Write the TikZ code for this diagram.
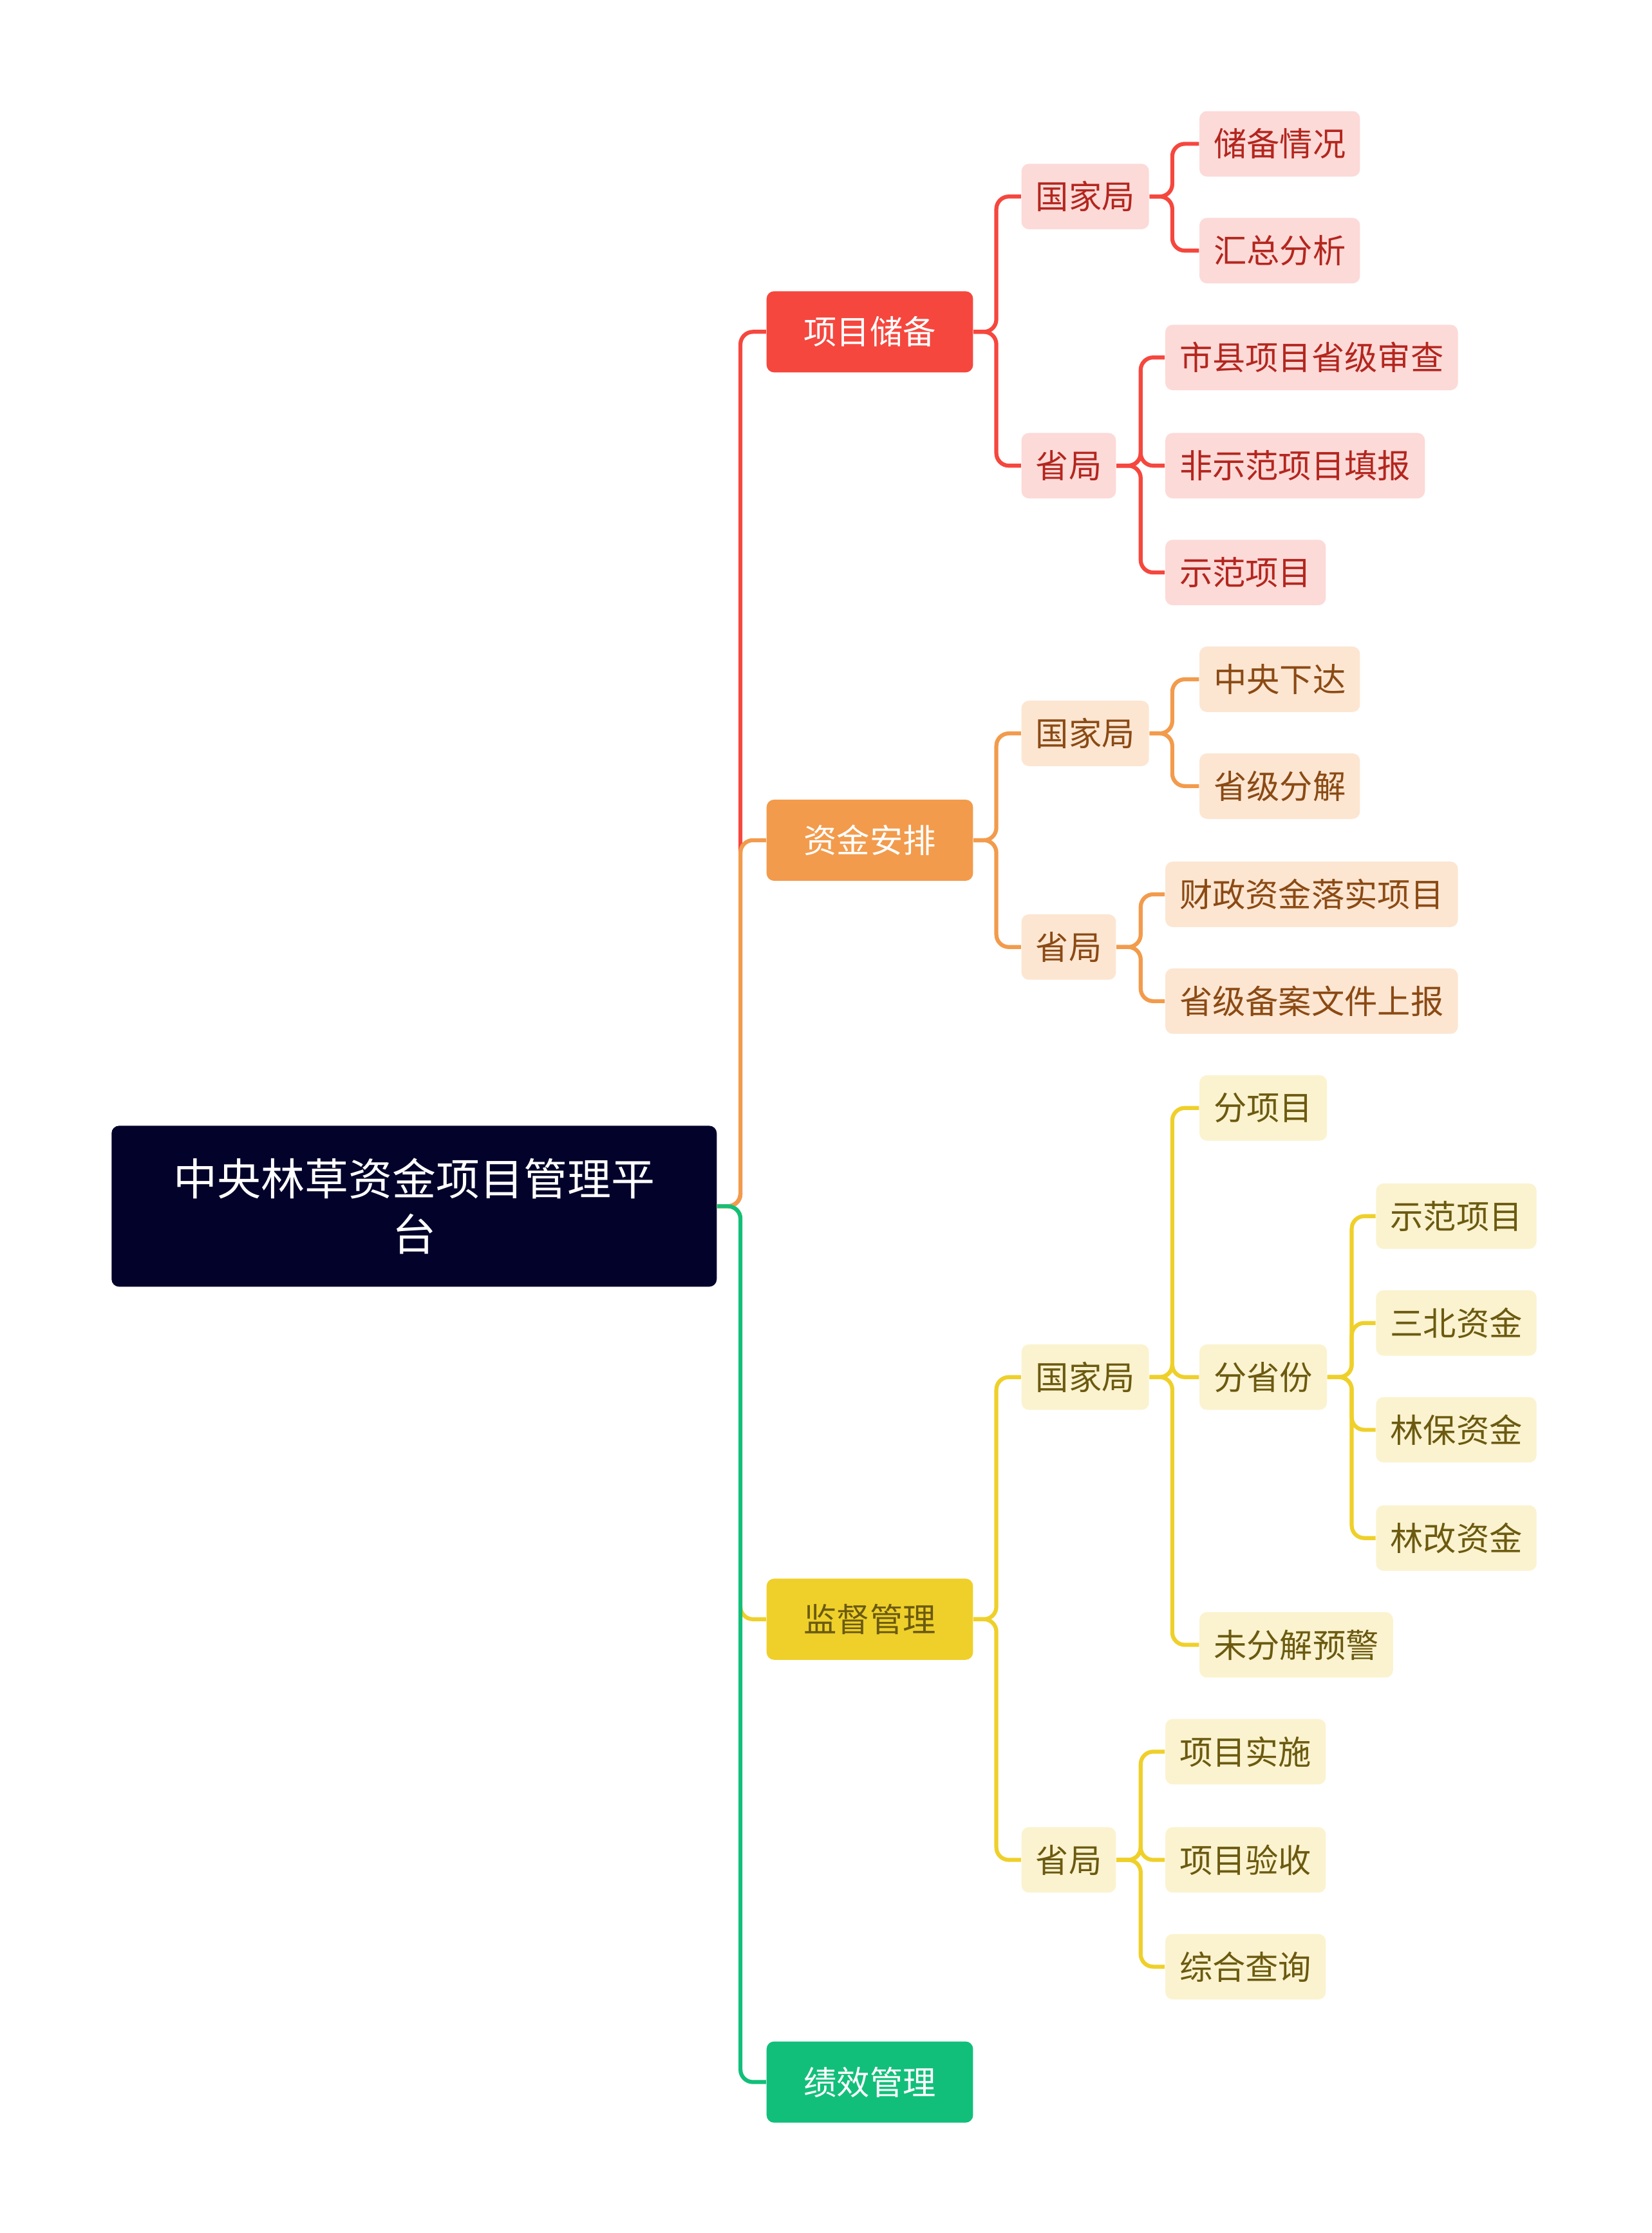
\documentclass[tikz,border=0pt]{standalone}
\usepackage{fontspec}
\setmainfont{Noto Sans CJK SC}
\begin{document}
\begin{tikzpicture}[x=0.02cm,y=-0.02cm,
    every node/.style={font=\fontsize{13.2}{15}\selectfont},
    rootbox/.style={fill=rootC,text=white,rounded corners=3pt,minimum width=425*0.02cm,minimum height=113*0.02cm,align=center,font=\fontsize{17.5}{22}\selectfont,anchor=west},
    topbox/.style={fill=#1,rounded corners=3pt,minimum width=145*0.02cm,minimum height=57*0.02cm,anchor=west},
    subbox/.style={fill=#1,rounded corners=3pt,minimum height=46*0.02cm,inner xsep=0.2cm,anchor=west},
    link/.style={draw=#1,line width=1.6pt,rounded corners=5pt}]

    \definecolor{rootC}{HTML}{02022B}
    \definecolor{redC}{HTML}{F5473E}
    \definecolor{redL}{HTML}{FCDAD8}
    \definecolor{redT}{HTML}{B3261E}
    \definecolor{oraC}{HTML}{F29B4C}
    \definecolor{oraL}{HTML}{FCE6D2}
    \definecolor{oraT}{HTML}{8B4A14}
    \definecolor{yelC}{HTML}{EFD02A}
    \definecolor{yelL}{HTML}{FBF3CF}
    \definecolor{yelT}{HTML}{6B5A10}
    \definecolor{grnC}{HTML}{12BF7A}

    \useasboundingbox (0,0) rectangle (1160,1568);

    % Root.
    \node[rootbox] (root) at (78,847) {中央林草资金项目管理平\\台};

    % Main branches.
    \node[topbox=redC,text=white] (reserve) at (538,233) {项目储备};
    \node[topbox=oraC,text=white] (fund) at (538,590) {资金安排};
    \node[topbox=yelC,text=yelT] (super) at (538,1137) {监督管理};
    \node[topbox=grnC,text=white] (perf) at (538,1462) {绩效管理};

    % Project reserve.
    \node[subbox=redL,text=redT] (rNat) at (717,138) {国家局};
    \node[subbox=redL,text=redT] (rPro) at (717,327) {省局};
    \node[subbox=redL,text=redT] (rN1) at (842,101) {储备情况};
    \node[subbox=redL,text=redT] (rN2) at (842,176) {汇总分析};
    \node[subbox=redL,text=redT] (rP1) at (818,251) {市县项目省级审查};
    \node[subbox=redL,text=redT] (rP2) at (818,327) {非示范项目填报};
    \node[subbox=redL,text=redT] (rP3) at (818,402) {示范项目};

    % Fund arrangement.
    \node[subbox=oraL,text=oraT] (fNat) at (717,515) {国家局};
    \node[subbox=oraL,text=oraT] (fPro) at (717,665) {省局};
    \node[subbox=oraL,text=oraT] (fN1) at (842,477) {中央下达};
    \node[subbox=oraL,text=oraT] (fN2) at (842,552) {省级分解};
    \node[subbox=oraL,text=oraT] (fP1) at (818,628) {财政资金落实项目};
    \node[subbox=oraL,text=oraT] (fP2) at (818,703) {省级备案文件上报};

    % Supervision.
    \node[subbox=yelL,text=yelT] (sNat) at (717,967) {国家局};
    \node[subbox=yelL,text=yelT] (sPro) at (717,1306) {省局};
    \node[subbox=yelL,text=yelT] (sN1) at (842,778) {分项目};
    \node[subbox=yelL,text=yelT] (sN2) at (842,967) {分省份};
    \node[subbox=yelL,text=yelT] (sN3) at (842,1155) {未分解预警};
    \node[subbox=yelL,text=yelT] (sQ1) at (966,854) {示范项目};
    \node[subbox=yelL,text=yelT] (sQ2) at (966,929) {三北资金};
    \node[subbox=yelL,text=yelT] (sQ3) at (966,1004) {林保资金};
    \node[subbox=yelL,text=yelT] (sQ4) at (966,1080) {林改资金};
    \node[subbox=yelL,text=yelT] (sP1) at (818,1230) {项目实施};
    \node[subbox=yelL,text=yelT] (sP2) at (818,1306) {项目验收};
    \node[subbox=yelL,text=yelT] (sP3) at (818,1381) {综合查询};

    % Connectors.
    \draw[link=redC] (root.east) -- (520,847) |- (reserve.west);
    \draw[link=oraC] (root.east) -- (520,847) |- (fund.west);
    \draw[link=yelC] (root.east) -- (520,847) |- (super.west);
    \draw[link=grnC] (root.east) -- (520,847) |- (perf.west);

    \foreach \c in {rNat,rPro}{\draw[link=redC] (reserve.east) -- ++(16,0) |- (\c.west);}
    \foreach \c in {rN1,rN2}{\draw[link=redC] (rNat.east) -- ++(16,0) |- (\c.west);}
    \foreach \c in {rP1,rP2,rP3}{\draw[link=redC] (rPro.east) -- ++(17,0) |- (\c.west);}

    \foreach \c in {fNat,fPro}{\draw[link=oraC] (fund.east) -- ++(16,0) |- (\c.west);}
    \foreach \c in {fN1,fN2}{\draw[link=oraC] (fNat.east) -- ++(16,0) |- (\c.west);}
    \foreach \c in {fP1,fP2}{\draw[link=oraC] (fPro.east) -- ++(17,0) |- (\c.west);}

    \foreach \c in {sNat,sPro}{\draw[link=yelC] (super.east) -- ++(16,0) |- (\c.west);}
    \foreach \c in {sN1,sN2,sN3}{\draw[link=yelC] (sNat.east) -- ++(16,0) |- (\c.west);}
    \foreach \c in {sQ1,sQ2,sQ3,sQ4}{\draw[link=yelC] (sN2.east) -- ++(17,0) |- (\c.west);}
    \foreach \c in {sP1,sP2,sP3}{\draw[link=yelC] (sPro.east) -- ++(17,0) |- (\c.west);}

\end{tikzpicture}
\end{document}
